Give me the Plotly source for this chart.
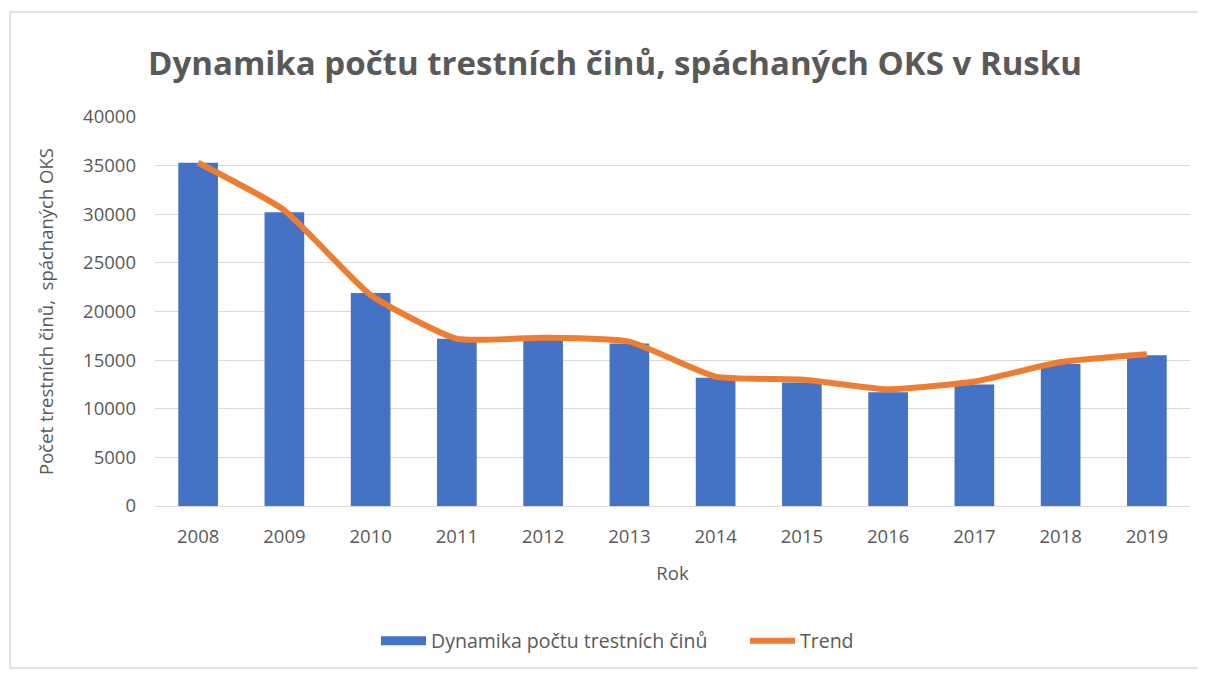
import plotly.graph_objects as go

years = ["2008", "2009", "2010", "2011", "2012", "2013", "2014", "2015", "2016", "2017", "2018", "2019"]
crimes = [35300, 30200, 21900, 17200, 17200, 16700, 13200, 12700, 11700, 12500, 14600, 15500]
trend = [35300, 30400, 21700, 17200, 17300, 16900, 13300, 13000, 12000, 12800, 14800, 15600]

W, H = 1206, 673
OFF = 8  # page body margin offset
L, R, T, B = 155 - OFF, 16 + OFF, 117 - OFF, 167 + OFF

font_fam = "Open Sans, Noto Sans, sans-serif"
gray = "#595959"
blue = "#4472C4"
orange = "#ED7D31"
fs = 18.5

fig = go.Figure()
fig.add_trace(go.Bar(x=years, y=crimes, name="Dynamika počtu trestních činů",
                     marker=dict(color=blue, line=dict(width=0)), width=0.46,
                     showlegend=False, legendgroup="bar"))
# legend proxy for the bar series (wide rectangle swatch)
fig.add_trace(go.Scatter(x=[None], y=[None], name="Dynamika počtu trestních činů", mode="lines",
                         line=dict(color=blue, width=9), legendgroup="bar", hoverinfo="skip"))
fig.add_trace(go.Scatter(x=years, y=trend, name="Trend", mode="lines",
                         line=dict(color=orange, width=6, shape="spline", smoothing=0.5)))

pw = W - L - R
ph = H - T - B
def px_x(p):
    return (p - OFF - L) / pw
def px_y(p):
    return (H - B - (p - OFF)) / ph

fig.update_layout(
    width=W, height=H,
    margin=dict(l=L, r=R, t=T, b=B),
    paper_bgcolor="white", plot_bgcolor="white",
    font=dict(family=font_fam, color=gray, size=fs),
    title=dict(text="<b>Dynamika počtu trestních činů, spáchaných OKS v Rusku</b>",
               x=(615 - OFF) / W, xanchor="center", y=1 - (63 - OFF) / H, yanchor="middle",
               font=dict(size=33, color=gray, family=font_fam)),
    showlegend=True,
    legend=dict(orientation="h", x=px_x(376), xanchor="left", y=px_y(641), yanchor="middle",
                font=dict(size=19.5, color=gray), traceorder="normal", itemwidth=45,
                tracegroupgap=0, entrywidth=309, entrywidthmode="pixels"),
    shapes=[dict(type="rect", xref="paper", yref="paper",
                 x0=px_x(10), x1=px_x(1201), y0=px_y(668), y1=px_y(12),
                 line=dict(color="#d9d9d9", width=1.5), fillcolor="rgba(0,0,0,0)", layer="below")],
)
fig.update_xaxes(title=dict(text="Rok", font=dict(size=fs, color=gray), standoff=19),
                 showline=True, linecolor="#d9d9d9", linewidth=1, ticks="",
                 tickfont=dict(size=fs, color=gray), showgrid=False, ticklabelstandoff=14)
fig.update_yaxes(title=dict(text="Počet trestních činů,  spáchaných OKS", font=dict(size=fs, color=gray), standoff=24),
                 range=[0, 40000], dtick=5000, tickformat="d", gridcolor="#d9d9d9", gridwidth=1,
                 zeroline=False, showline=False, tickfont=dict(size=fs, color=gray), ticklabelstandoff=18)

fig.write_html("out.html")
